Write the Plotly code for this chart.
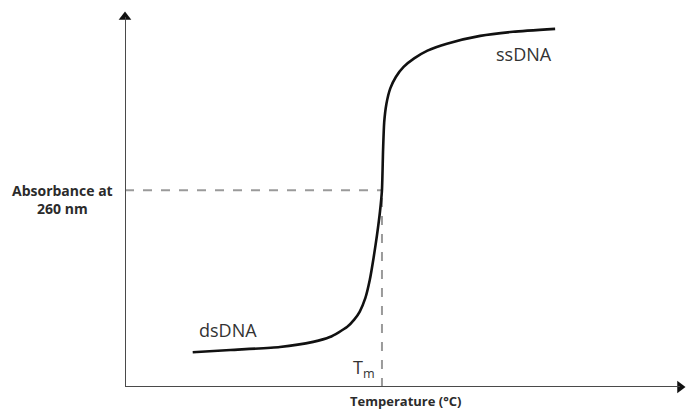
import plotly.graph_objects as go

# Schematic melting curve (arbitrary units: temperature 0-100, absorbance 0-100)
temperature = [12.2, 19.0, 27.9, 33.9, 36.9, 40.0, 41.3, 42.3, 43.3, 44.1, 44.8, 45.4, 45.95, 46.3,
               46.5, 46.7, 47.1, 47.8, 48.8, 50.2, 52.1, 54.5, 58.0, 64.0, 69.9, 77.5]
absorbance = [9.4, 10.0, 10.8, 12.2, 13.5, 16.2, 18.2, 20.4, 24.0, 28.9, 35.0, 41.0, 47.5, 53.2,
              64.1, 71.5, 76.5, 80.7, 83.8, 86.5, 88.8, 90.9, 92.8, 94.9, 96.0, 96.8]
tm_value = 46.3
abs_at_tm = 53.2
x_max = 100
y_max = 100

label_font = "Open Sans, Lato, DejaVu Sans, sans-serif"
axis_color = "#4a4a4a"

fig = go.Figure()

# axes lines
fig.add_shape(type="line", x0=0, x1=0, y0=0, y1=y_max, line=dict(color=axis_color, width=2))
fig.add_shape(type="line", x0=0, x1=x_max, y0=0, y1=0, line=dict(color=axis_color, width=2))

# dashed guide lines
fig.add_shape(type="line", x0=0, x1=tm_value, y0=abs_at_tm, y1=abs_at_tm,
              line=dict(color="#9a9a9a", width=2, dash="dash"), layer="below")
fig.add_shape(type="line", x0=tm_value, x1=tm_value, y0=0, y1=abs_at_tm,
              line=dict(color="#9a9a9a", width=2, dash="dash"), layer="below")

# curve
fig.add_trace(go.Scatter(x=temperature, y=absorbance, mode="lines",
                         line=dict(color="#111111", width=2.6, shape="spline", smoothing=0.6),
                         hoverinfo="skip", showlegend=False))

# arrowheads at axis ends
fig.add_trace(go.Scatter(x=[0], y=[y_max], mode="markers", cliponaxis=False,
                         marker=dict(symbol="triangle-up", size=11, color="#111111"),
                         hoverinfo="skip", showlegend=False))
fig.add_trace(go.Scatter(x=[x_max], y=[0], mode="markers", cliponaxis=False,
                         marker=dict(symbol="triangle-right", size=11, color="#111111"),
                         hoverinfo="skip", showlegend=False))

# labels (outside plotting area -> paper coordinates)
fig.add_annotation(x=-0.113, y=0.508, xref="paper", yref="paper", text="<b>Absorbance at<br>260 nm</b>",
                   showarrow=False, align="center", xanchor="center", yanchor="middle",
                   font=dict(family=label_font, size=14, color="#2b2b2b"))
fig.add_annotation(x=0.505, y=-0.038, xref="paper", yref="paper", text="<b>Temperature (°C)</b>",
                   showarrow=False, xanchor="center", yanchor="middle",
                   font=dict(family=label_font, size=13, color="#2b2b2b"))
fig.add_annotation(x=18.6, y=15.4, xref="x", yref="y", text="dsDNA",
                   showarrow=False, xanchor="center", yanchor="middle",
                   font=dict(family=label_font, size=18, color="#333333"))
fig.add_annotation(x=71.9, y=90.0, xref="x", yref="y", text="ssDNA",
                   showarrow=False, xanchor="center", yanchor="middle",
                   font=dict(family=label_font, size=18, color="#333333"))
fig.add_annotation(x=43.1, y=4.9, xref="x", yref="y", text="T<sub>m</sub>",
                   showarrow=False, xanchor="center", yanchor="middle",
                   font=dict(family=label_font, size=18, color="#333333"))

fig.update_layout(
    width=690, height=411,
    margin=dict(l=125, r=10, t=17, b=24),
    paper_bgcolor="white", plot_bgcolor="white",
    xaxis=dict(range=[0, x_max], visible=False, fixedrange=True),
    yaxis=dict(range=[0, y_max], visible=False, fixedrange=True),
    showlegend=False,
)

fig.write_html("out.html")
